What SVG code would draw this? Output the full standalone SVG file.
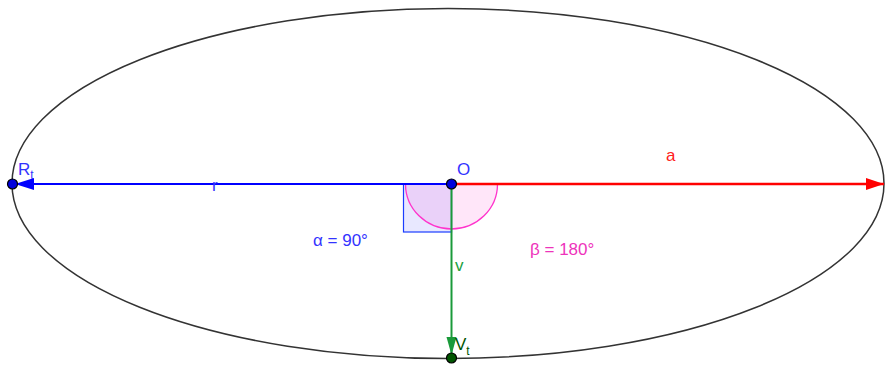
<svg xmlns="http://www.w3.org/2000/svg" width="885" height="365" viewBox="0 0 885 365">
<style>
text{font-family:"Liberation Sans","DejaVu Sans",sans-serif;font-size:17px}
.blue{fill:#3333ff}.red{fill:#ff2020}.mag{fill:#ee33bb}.green{fill:#22a040}.dkg{fill:#005500}
.pt{stroke:#000;stroke-width:1.2}
</style>
<defs>
<marker id="ab" markerWidth="20" markerHeight="12" refX="19" refY="6" orient="auto" markerUnits="userSpaceOnUse"><path d="M0,0 L19,6 L0,12 Z" fill="#0000ff"/></marker>
<marker id="ar" markerWidth="20" markerHeight="12" refX="18" refY="6" orient="auto" markerUnits="userSpaceOnUse"><path d="M0,0 L18,6 L0,12 Z" fill="#ff0000"/></marker>
<marker id="ag" markerWidth="20" markerHeight="12" refX="18" refY="5" orient="auto" markerUnits="userSpaceOnUse"><path d="M0,0 L18,5 L0,10 Z" fill="#1a9a3a"/></marker>
</defs>
<rect width="885" height="365" fill="#fff"/>
<g id="ellipse"><ellipse cx="448" cy="183.5" rx="436" ry="175" fill="none" stroke="#333" stroke-width="1.5"/></g>
<g id="angles">
<rect x="403.5" y="184" width="48" height="48" fill="#0000ff" fill-opacity="0.09" stroke="#1a3cff" stroke-width="1.2"/>
<path d="M405.5,184 A46,45 0 0 0 497.5,184 Z" fill="#ff33cc" fill-opacity="0.12" stroke="#ff33cc" stroke-width="1.3"/>
</g>
<g id="connectors">
<line x1="451.5" y1="184" x2="884" y2="184" stroke="#ff0000" stroke-width="2.5" marker-end="url(#ar)"/>
<line x1="451.5" y1="184" x2="15" y2="184" stroke="#0000ff" stroke-width="2.2" marker-end="url(#ab)"/>
<line x1="451.5" y1="184" x2="451.5" y2="355" stroke="#1a9a3a" stroke-width="2" marker-end="url(#ag)"/>
</g>
<g id="O"><circle cx="451.5" cy="184" r="5" fill="#0000dd" class="pt"/><text x="457" y="175" class="blue">O</text></g>
<g id="R"><circle cx="12.5" cy="184" r="5" fill="#0000dd" class="pt"/><text x="18" y="175" class="blue">R<tspan font-size="12" dy="4">t</tspan></text></g>
<g id="V"><circle cx="451.5" cy="358" r="5" fill="#005500" class="pt"/><text x="455" y="350" class="dkg">V<tspan font-size="12" dy="5">t</tspan></text></g>
<g id="labels">
<text x="666" y="161" class="red">a</text>
<text x="212" y="191" class="blue">r</text>
<text x="455" y="271" class="green">v</text>
<text x="313" y="246" class="blue">α = 90°</text>
<text x="530" y="255" class="mag">β = 180°</text>
</g>
</svg>
